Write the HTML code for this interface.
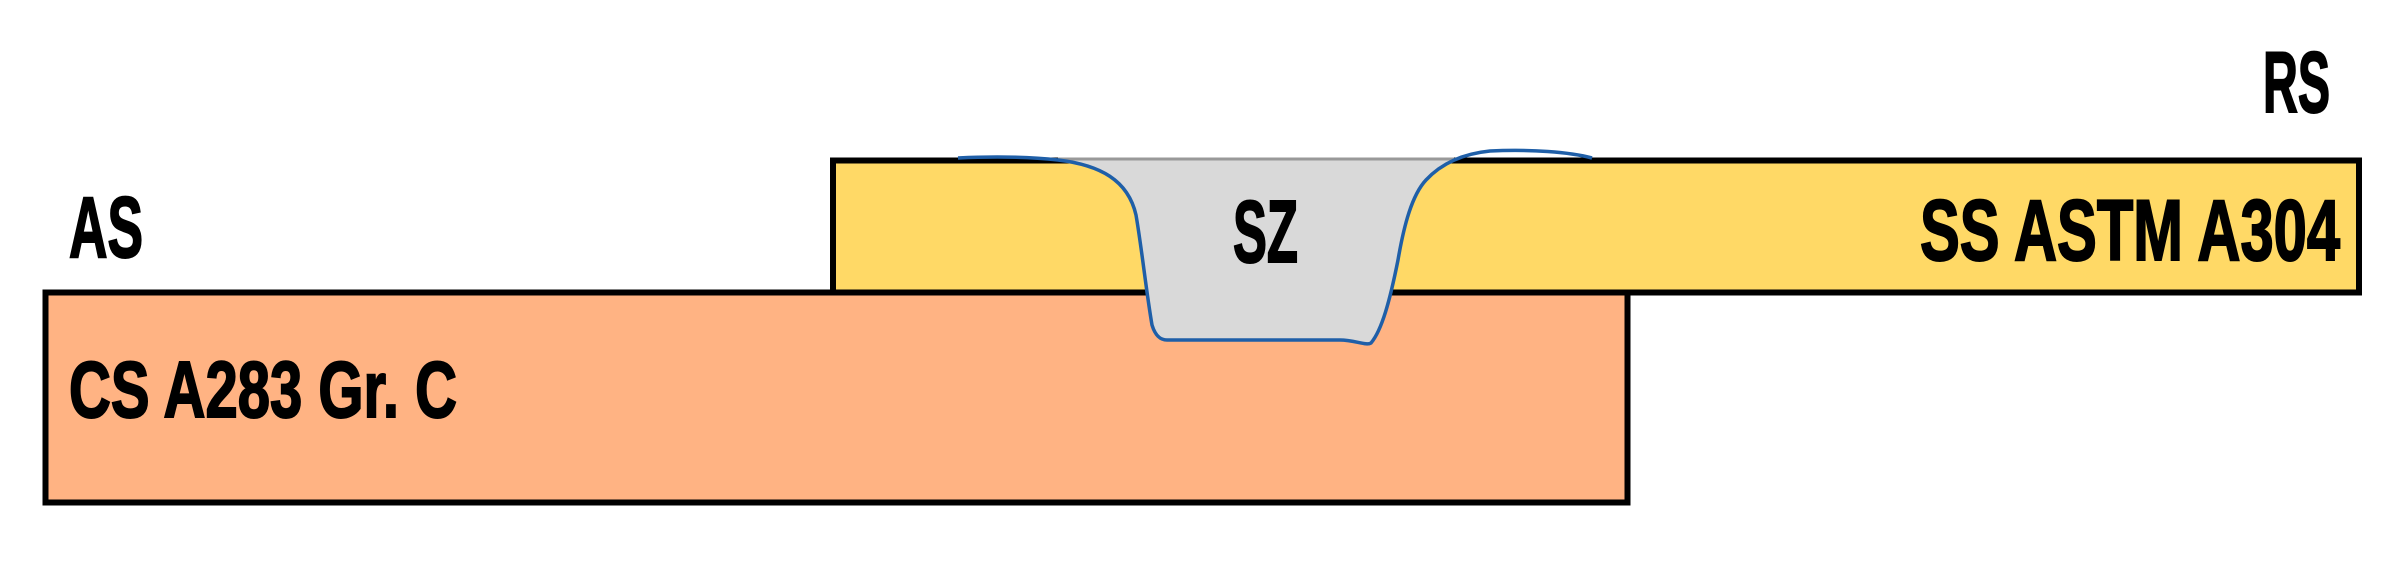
<!DOCTYPE html>
<html><head><meta charset="utf-8"><style>html,body{margin:0;padding:0;background:#fff}svg{display:block}</style></head>
<body>
<svg width="2405" height="561" viewBox="0 0 2405 561" xmlns="http://www.w3.org/2000/svg">
<rect x="0" y="0" width="2405" height="561" fill="#fff"/>
<rect x="833" y="160.5" width="1526" height="132" fill="#ffd966" stroke="#000" stroke-width="6"/>
<rect x="45.5" y="292.5" width="1582" height="210" fill="#ffb383" stroke="#000" stroke-width="6"/>
<path d="M1058,160 C1100,165 1128,180 1136,215 C1142,250 1146,290 1152,325 C1156,338 1162,340 1167,340 L1340,340 C1355,340 1366,346 1371,343 C1382,330 1390,300 1398,260 C1404,225 1412,195 1426,180 C1436,168 1446,162 1454,160 Z" fill="#d9d9d9"/>
<line x1="1058" y1="159" x2="1454" y2="159" stroke="#999" stroke-width="3"/>
<path d="M958,158 C1000,156 1030,157 1058,160 C1100,165 1128,180 1136,215 C1142,250 1146,290 1152,325 C1156,338 1162,340 1167,340 L1340,340 C1355,340 1366,346 1371,343 C1382,330 1390,300 1398,260 C1404,225 1412,195 1426,180 C1440,165 1460,154 1490,151 C1530,149 1570,152 1592,158" fill="none" stroke="#1f5fa8" stroke-width="3.5"/>
<g font-family="Liberation Sans, sans-serif" font-weight="bold" fill="#000" stroke="#000" stroke-width="2">
<text x="2263" y="112" font-size="86" textLength="67" lengthAdjust="spacingAndGlyphs">RS</text>
<text x="69" y="257" font-size="86" textLength="74" lengthAdjust="spacingAndGlyphs">AS</text>
<text x="1233" y="262" font-size="88" textLength="65" lengthAdjust="spacingAndGlyphs">SZ</text>
<text x="1920" y="260" font-size="86" textLength="420" lengthAdjust="spacingAndGlyphs">SS ASTM A304</text>
<text x="69" y="417" font-size="80" textLength="388" lengthAdjust="spacingAndGlyphs">CS A283 Gr. C</text>
</g>
</svg>
</body></html>
